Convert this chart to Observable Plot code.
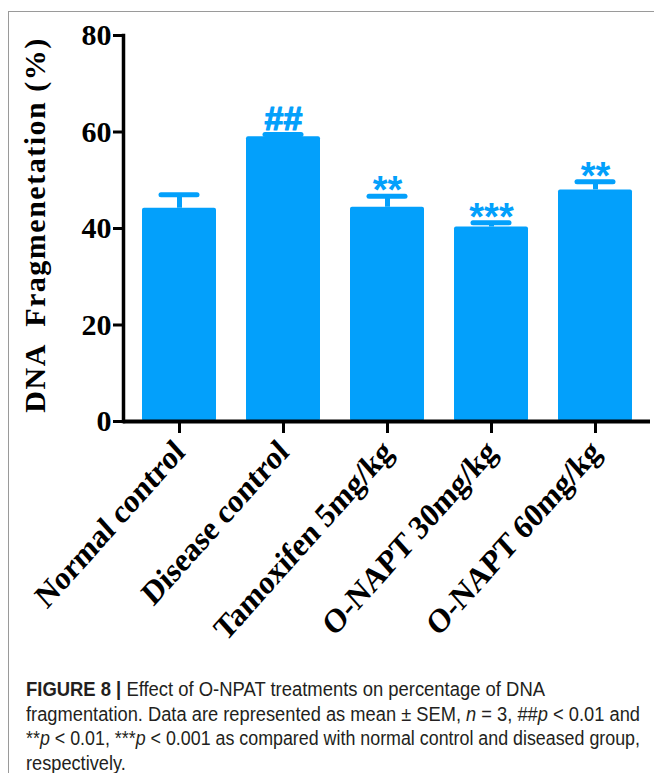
<!DOCTYPE html>
<html>
<head>
<meta charset="utf-8">
<script src="https://cdn.jsdelivr.net/npm/d3@7"></script>
<script src="https://cdn.jsdelivr.net/npm/@observablehq/plot@0.6"></script>
<style>
  html, body { margin: 0; padding: 0; background: #fff; }
  #fig { position: relative; width: 654px; height: 773px; overflow: hidden; background: #fff; }
  #frame { position: absolute; left: 8px; top: 11px; right: -2px; bottom: -2px; border-top: 1px solid #9a9a9a; border-left: 1px solid #9a9a9a; }
  #chart { position: absolute; left: 0; top: 0; }
  #ylabel { position: absolute; left: 0; top: 0; }
  #caption { position: absolute; left: 26px; top: 677px; width: 628px; white-space: nowrap; font-family: "Liberation Sans", Arial, sans-serif; font-size: 19.5px; line-height: 24.5px; color: #231f20; }
  #caption .ln { display: block; width: max-content; transform-origin: 0 50%; }
  #caption b { font-weight: bold; }
</style>
</head>
<body>
<div id="fig">
  <div id="frame"></div>
  <div id="chart"></div>
  <div id="caption"><span class="ln" data-w="519"><b>FIGURE 8 |</b> Effect of O-NPAT treatments on percentage of DNA</span><span class="ln" data-w="614">fragmentation. Data are represented as mean ± SEM, <i>n</i> = 3, ##<i>p</i> &lt; 0.01 and</span><span class="ln" data-w="614">**<i>p</i> &lt; 0.01, ***<i>p</i> &lt; 0.001 as compared with normal control and diseased group,</span><span class="ln" data-w="0">respectively.</span></div>
</div>
<script>
const groups = ["Normal control", "Disease control", "Tamoxifen 5mg/kg", "O-NAPT 30mg/kg", "O-NAPT 60mg/kg"];
const means = [44.2, 59.0, 44.4, 40.3, 48.0];
const sems = [2.8, 0.5, 2.3, 0.9, 1.7];
const sigs = ["", "##", "**", "***", "**"];
const yTicks = [0, 20, 40, 60, 80];
const yLabel = "DNA  Fragmenetation (%)";

const table = groups.map((g, i) => ({group: g, mean: means[i], top: means[i] + sems[i], sig: sigs[i]}));
const blue = "#03a0fb";
const serif = "'Liberation Serif', 'Times New Roman', serif";
const sans = "'Liberation Sans', Arial, sans-serif";

const plot = Plot.plot({
  width: 654,
  height: 660,
  marginTop: 35,
  marginBottom: 239,
  marginLeft: 123,
  marginRight: 4,
  x: {domain: groups, paddingInner: 0.29, paddingOuter: 0.167, label: null},
  y: {domain: [0, 80], label: null},
  style: {fontFamily: serif, background: "transparent"},
  marks: [
    Plot.barY(table, {x: "group", y: "mean", fill: blue, rx: 2}),
    Plot.ruleX(table, {x: "group", y1: "mean", y2: "top", stroke: blue, strokeWidth: 5}),
    Plot.tickY(table, {x: "group", y: "top", stroke: blue, strokeWidth: 5, strokeLinecap: "round", insetLeft: 19, insetRight: 19}),
    Plot.text(table.filter(d => d.sig.startsWith("#")), {x: "group", y: "top", text: "sig", fill: blue, stroke: blue, strokeWidth: 1.2, fontSize: 34, fontWeight: "bold", fontFamily: sans, lineAnchor: "bottom", dy: -4}),
    Plot.text(table.filter(d => d.sig.startsWith("*")), {x: "group", y: "top", text: "sig", fill: blue, fontSize: 38, fontWeight: "bold", fontFamily: sans, lineAnchor: "bottom", dy: 7}),
    Plot.axisY({ticks: yTicks, tickSize: 10, strokeWidth: 3, tickPadding: 2, fontSize: 30, fontWeight: "bold", fill: "#000", label: null}),
    Plot.axisX({tickSize: 12, strokeWidth: 3, tickPadding: 10, tickRotate: -45, fontSize: 30, fontWeight: "bold", fill: "#000", label: null}),
    Plot.ruleY([0], {stroke: "#000", strokeWidth: 4}),
    Plot.frame({anchor: "left", stroke: "#000", strokeWidth: 3.5})
  ]
});
document.getElementById("chart").appendChild(plot);

// the reference's rotated category labels are slightly stretched vertically
const y0 = 421;
const xLabels = plot.querySelector('g[aria-label="x-axis tick label"]');
if (xLabels) {
  const wrap = document.createElementNS("http://www.w3.org/2000/svg", "g");
  wrap.setAttribute("transform", `translate(0,${y0}) scale(1,1.12) translate(0,${-y0})`);
  xLabels.parentNode.insertBefore(wrap, xLabels);
  wrap.appendChild(xLabels);
}

// rotated y-axis title
const svgNS = "http://www.w3.org/2000/svg";
const lab = document.createElementNS(svgNS, "svg");
lab.setAttribute("width", 70);
lab.setAttribute("height", 450);
lab.setAttribute("id", "ylabel");
const t = document.createElementNS(svgNS, "text");
t.setAttribute("transform", "translate(45,225) rotate(-90)");
t.setAttribute("text-anchor", "middle");
t.setAttribute("font-family", serif);
t.setAttribute("font-weight", "bold");
t.setAttribute("font-size", "30");
t.setAttribute("letter-spacing", "1.5");
t.style.whiteSpace = "pre";
t.textContent = yLabel;
lab.appendChild(t);
document.getElementById("fig").appendChild(lab);

// fit caption lines to the reference line widths (narrow caption face)
const lines = document.querySelectorAll("#caption .ln");
lines.forEach(el => {
  const target = +el.dataset.w;
  if (target > 0) {
    const w = el.getBoundingClientRect().width;
    el.dataset.s = target / w;
  }
});
const ss = [...lines].map(el => +el.dataset.s).filter(s => s > 0);
const avg = ss.reduce((a, b) => a + b, 0) / ss.length;
lines.forEach(el => {
  const s = el.dataset.s ? +el.dataset.s : avg;
  el.style.transform = `scaleX(${s})`;
});
</script>
</body>
</html>
